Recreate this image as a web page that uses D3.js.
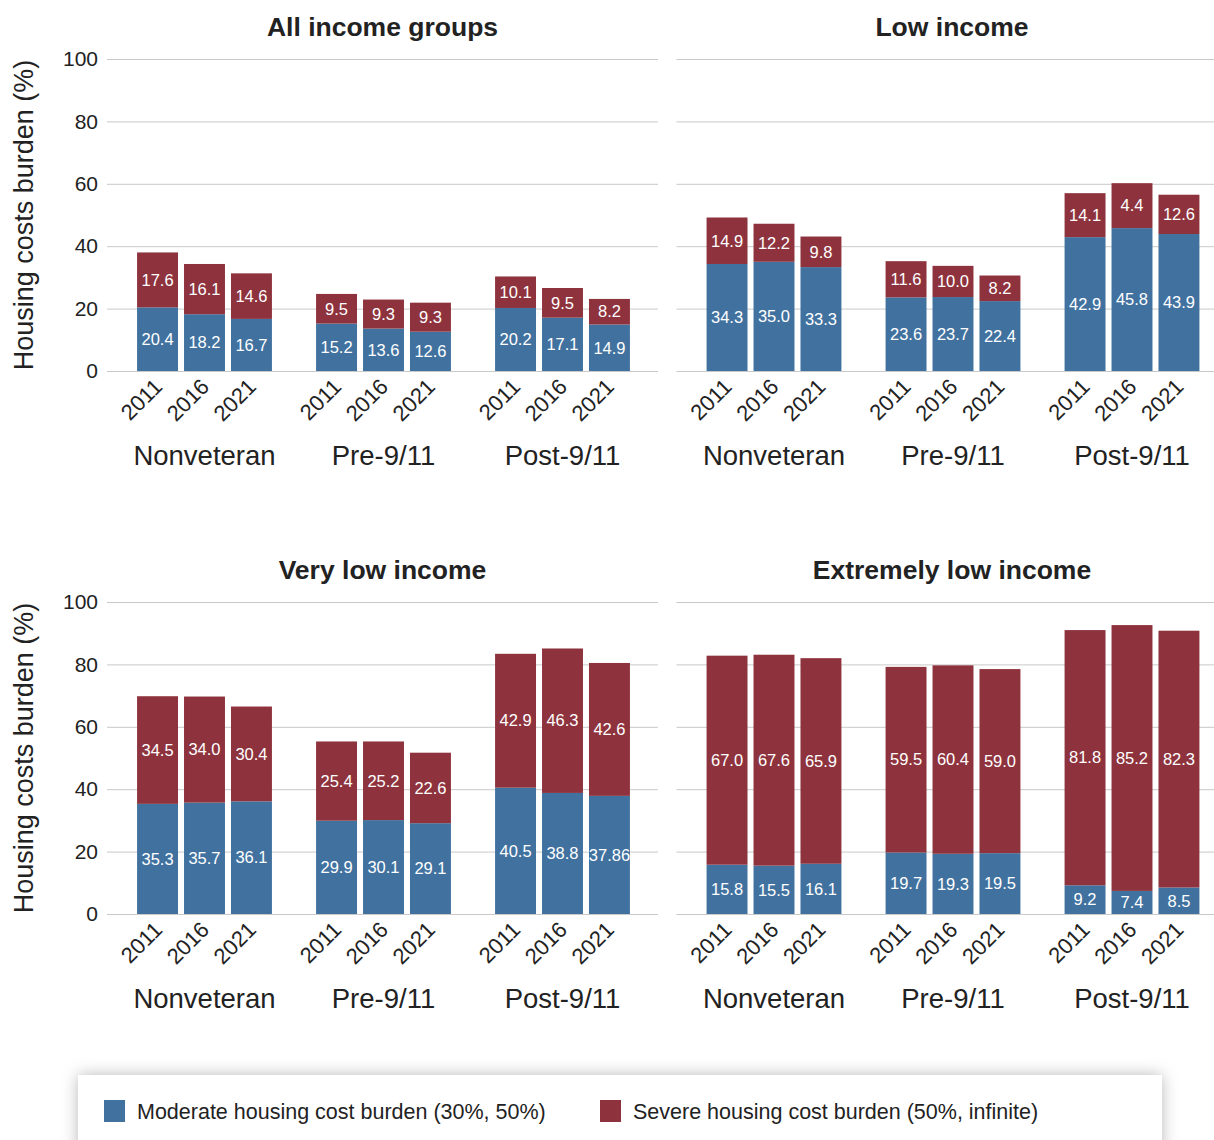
<!DOCTYPE html>
<html>
<head>
<meta charset="utf-8">
<script src="https://cdn.jsdelivr.net/npm/d3@7"></script>
<style>
body { margin: 0; background: #fff; }
text { font-family: "Liberation Sans", Arial, Helvetica, sans-serif; }
</style>
</head>
<body>
<script>
/*
*    housing cost burden, 4 panels
*/

var width = 1214;
var height = 1140;

var panelNames = ["All income groups", "Low income", "Very low income", "Extremely low income"];
var groups = ["Nonveteran", "Pre-9/11", "Post-9/11"];
var years = ["2011", "2016", "2021"];
var yTicks = [0, 20, 40, 60, 80, 100];

// one row per panel, group-major (Nonveteran 2011/2016/2021, Pre-9/11 ..., Post-9/11 ...)
var moderate = [
    [20.4, 18.2, 16.7, 15.2, 13.6, 12.6, 20.2, 17.1, 14.9],
    [34.3, 35.0, 33.3, 23.6, 23.7, 22.4, 42.9, 45.8, 43.9],
    [35.3, 35.7, 36.1, 29.9, 30.1, 29.1, 40.5, 38.8, 37.86],
    [15.8, 15.5, 16.1, 19.7, 19.3, 19.5, 9.2, 7.4, 8.5]
];
var severe = [
    [17.6, 16.1, 14.6, 9.5, 9.3, 9.3, 10.1, 9.5, 8.2],
    [14.9, 12.2, 9.8, 11.6, 10.0, 8.2, 14.1, 14.4, 12.6],
    [34.5, 34.0, 30.4, 25.4, 25.2, 22.6, 42.9, 46.3, 42.6],
    [67.0, 67.6, 65.9, 59.5, 60.4, 59.0, 81.8, 85.2, 82.3]
];
// the printed label differs from the drawn segment here
var labelOverrides = [{panel: 1, index: 7, text: "4.4"}];

var legendLabels = ["Moderate housing cost burden (30%, 50%)", "Severe housing cost burden (50%, infinite)"];

var blue = "#41729f";
var red = "#8e333d";

var plotW = 551;
var plotH = 312;
var panelLeft = [107, 676.5];
var panelTop = [59, 602];

var fmt = v => Math.abs(v * 10 - Math.round(v * 10)) < 1e-9 ? v.toFixed(1) : String(v);

//Scales
var y = d3.scaleLinear()
    .domain([0, 100])
    .range([plotH, 0]);

var x0 = d3.scaleBand()
    .domain(groups)
    .range([8, 545]);

var x1 = d3.scaleBand()
    .domain(years)
    .range([0, x0.bandwidth()])
    .paddingInner(0.128)
    .paddingOuter(0.47);

const svg = d3.select("body")
    .append("svg")
        .attr("width", width)
        .attr("height", height);

panelNames.forEach((name, p) => {
    var col = p % 2, row = Math.floor(p / 2);
    var g = svg.append("g")
        .attr("transform", "translate(" + panelLeft[col] + ", " + panelTop[row] + ")");

    //Grid
    var axis = d3.axisLeft(y)
        .tickValues(yTicks)
        .tickSize(-plotW)
        .tickPadding(9);
    var ga = g.append("g").attr("class", "y-axis").call(axis);
    ga.select(".domain").remove();
    ga.selectAll(".tick line").attr("stroke", "#c9c9c9").attr("stroke-width", 1);
    ga.selectAll(".tick text")
        .attr("fill", "#222")
        .style("font-size", "21px");
    if (col == 1) ga.selectAll(".tick text").remove();

    if (col == 0) {
        g.append("text")
            .attr("transform", "rotate(-90)")
            .attr("x", -(plotH / 2))
            .attr("y", -83)
            .attr("dy", "0.35em")
            .attr("text-anchor", "middle")
            .attr("fill", "#222")
            .style("font-size", "27px")
            .text("Housing costs burden (%)");
    }

    g.append("text")
        .attr("x", plotW / 2)
        .attr("y", -23)
        .attr("text-anchor", "middle")
        .attr("fill", "#222")
        .style("font-size", "26.5px")
        .style("font-weight", "bold")
        .text(name);

    var rows = [];
    groups.forEach((grp, gi) => {
        years.forEach((yr, yi) => {
            var i = gi * 3 + yi;
            var ov = labelOverrides.find(o => o.panel == p && o.index == i);
            rows.push({
                group: grp, year: yr,
                mod: moderate[p][i], sev: severe[p][i],
                sevLabel: ov ? ov.text : fmt(severe[p][i])
            });
        });
    });

    var bars = g.selectAll(".bar")
        .data(rows)
        .enter()
        .append("g")
            .attr("class", "bar")
            .attr("transform", d => "translate(" + (x0(d.group) + x1(d.year)) + ", 0)");

    bars.append("rect")
        .attr("fill", blue)
        .attr("width", x1.bandwidth())
        .attr("y", d => y(d.mod))
        .attr("height", d => plotH - y(d.mod));

    bars.append("rect")
        .attr("fill", red)
        .attr("width", x1.bandwidth())
        .attr("y", d => y(d.mod + d.sev))
        .attr("height", d => y(d.mod) - y(d.mod + d.sev));

    bars.append("text")
        .attr("x", x1.bandwidth() / 2)
        .attr("y", d => y(d.mod / 2))
        .attr("dy", "0.35em")
        .attr("text-anchor", "middle")
        .attr("fill", "#fff")
        .style("font-size", "16.5px")
        .text(d => fmt(d.mod));

    bars.append("text")
        .attr("x", x1.bandwidth() / 2)
        .attr("y", d => y(d.mod + d.sev / 2))
        .attr("dy", "0.35em")
        .attr("text-anchor", "middle")
        .attr("fill", "#fff")
        .style("font-size", "16.5px")
        .text(d => d.sevLabel);

    //Year labels
    bars.append("text")
        .attr("transform", "translate(" + (x1.bandwidth() / 2 + 6) + ", " + (plotH + 17) + ") rotate(-45)")
        .attr("text-anchor", "end")
        .attr("fill", "#222")
        .style("font-size", "22px")
        .text(d => d.year);

    g.selectAll(".group-label")
        .data(groups)
        .enter()
        .append("text")
            .attr("class", "group-label")
            .attr("x", d => x0(d) + x0.bandwidth() / 2)
            .attr("y", plotH + 94)
            .attr("text-anchor", "middle")
            .attr("fill", "#222")
            .style("font-size", "27.5px")
            .text(d => d);
});

//Legend
var defs = svg.append("defs");
defs.append("filter")
    .attr("id", "shadow")
    .attr("x", "-5%").attr("y", "-50%")
    .attr("width", "110%").attr("height", "200%")
    .append("feDropShadow")
        .attr("dx", 0).attr("dy", 0)
        .attr("stdDeviation", 8)
        .attr("flood-color", "#000")
        .attr("flood-opacity", 0.28);

svg.append("rect")
    .attr("x", 78)
    .attr("y", 1075)
    .attr("width", 1084)
    .attr("height", 90)
    .attr("fill", "#fff")
    .attr("filter", "url(#shadow)");

var legend = svg.selectAll(".legend")
    .data(legendLabels)
    .enter()
    .append("g")
        .attr("class", "legend")
        .attr("transform", (d, i) => "translate(" + (104 + i * 496) + ", 1100)");

legend.append("rect")
    .attr("width", 21)
    .attr("height", 22)
    .attr("fill", (d, i) => i == 0 ? blue : red);

legend.append("text")
    .attr("x", 33)
    .attr("y", 11)
    .attr("dy", "0.35em")
    .attr("fill", "#222")
    .style("font-size", "21.5px")
    .text(d => d);
</script>
</body>
</html>
